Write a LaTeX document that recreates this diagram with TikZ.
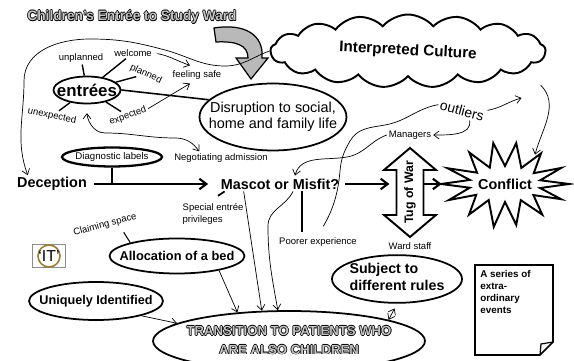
\documentclass[tikz,border=0pt]{standalone}
\usepackage{fontspec}
\setmainfont{Liberation Sans}
\usepackage{xcolor}
\definecolor{gold}{HTML}{A07C34}
\definecolor{boxgray}{HTML}{8C8C8C}
\usetikzlibrary{positioning,arrows.meta,calc,shapes.geometric,shapes.symbols}

\newcommand\fpt[2]{\fontsize{#1}{#2}\selectfont}
% grey letters with a black rim
\newcommand\hollow[1]{%
  \makebox[0pt][l]{\hspace{-.4pt}\textcolor{black}{#1}}%
  \makebox[0pt][l]{\hspace{.4pt}\textcolor{black}{#1}}%
  \makebox[0pt][l]{\raisebox{.4pt}{\textcolor{black}{#1}}}%
  \makebox[0pt][l]{\raisebox{-.4pt}{\textcolor{black}{#1}}}%
  \makebox[0pt][l]{\hspace{.3pt}\raisebox{-.3pt}{\textcolor{black}{#1}}}%
  \textcolor{gray!45}{#1}}

\begin{document}
\begin{tikzpicture}[
  x=0.02cm,y=0.02cm,
  >={Straight Barb[length=3pt,width=4.5pt]},
  lbl/.style={inner sep=1pt,font=\fpt{5.4}{6.4}},
  oval/.style={ellipse,draw,line width=1pt,inner sep=0pt},
  head/.style={inner sep=1pt,font=\bfseries\fpt{8.2}{9.6}},
  link/.style={->,line width=0.4pt},
  spoke/.style={line width=0.8pt},
  push/.style={-{Straight Barb[length=4pt,width=6pt]},line width=1.2pt},
]
\useasboundingbox (0,0) rectangle (574,361);

% title, culture cloud, grey arrow
\node[font=\bfseries\fpt{7.8}{9}] (title) at (132,344) {\hollow{Children's Entrée to Study Ward}};
\node[cloud,draw,line width=1.1pt,cloud puffs=17,cloud puff arc=100,cloud ignores aspect,
      minimum width=55mm,minimum height=14.6mm,inner sep=0pt,font=\bfseries\fpt{8.7}{10}]
      (cloud) at (408,310) {\makebox[0pt]{\rotatebox{-3}{Interpreted Culture}}};
\draw[fill=gray!55,line width=0.7pt] (214,333) .. controls (245,338) and (264,326) .. (262,303)
  -- (268,303) -- (251,282) -- (236,303) -- (248,303) .. controls (248,316) and (236,320) .. (216,319) -- cycle;

% entrees cluster
\node[oval,minimum width=13.4mm,minimum height=5.4mm,font=\bfseries\fpt{9.6}{11}] (entrees) at (87,271) {\makebox[0pt]{entrées}};
\node[lbl] (unpl) at (81,303) {unplanned};
\node[lbl] (welc) at (133,308) {welcome};
\node[lbl,rotate=-25] (plan) at (146,287) {planned};
\node[lbl,rotate=-12] (unexp) at (52,245) {unexpected};
\node[lbl,rotate=20] (expd) at (128,245) {expected};
\node[lbl] (safe) at (197,286) {feeling safe};
\node[oval,minimum width=29.4mm,minimum height=13.4mm,font=\fpt{8.2}{9.4}] (disr) at (273,244)
  {\makebox[0pt]{\begin{tabular}{@{}c@{}}Disruption to social,\\home and family life\end{tabular}}};
\node[lbl] (nego) at (221,203) {Negotiating admission};
\node[oval,line width=1.3pt,minimum width=20mm,minimum height=3.8mm,font=\fpt{5.5}{6.4}] (diag) at (112,204) {\makebox[0pt]{Diagnostic labels}};

\draw[spoke] (entrees) -- (unpl);
\draw[spoke] (entrees) -- (welc);
\draw[spoke] (entrees) -- (plan);
\draw[spoke] (entrees) -- (unexp);
\draw[spoke] (entrees) -- (expd);
\draw[link,shorten <=2pt] (welc.east) to[out=-10,in=160] ($(safe.north)+(-7,3)$);
\draw[link] (expd.east) -- ($(safe.south)+(-7,-2)$);
\draw[spoke,line width=0.9pt] (entrees.east) -- (disr.165);
\draw[link,<->,shorten <=5pt] (entrees.south) to[out=-90,in=180] (105,228) to[out=0,in=180] (175,223)
  to[out=0,in=125] ($(nego.north west)+(27,0)$);

% main row
\node[head] (decep) at (52,177) {Deception};
\node[head] (mascot) at (280,177) {Mascot or Misfit?};
\node[rotate=90,inner sep=0pt,font=\bfseries\fpt{7}{8}] (tug) at (410,168.5) {Tug of War};
\begin{scope}[shift={(tug.center)}]
  \draw[line width=1.1pt] (-13.5,22.5) -- (-26,22.5) -- (0,44.5) -- (26,22.5) -- (13.5,22.5) -- (13.5,-22.5)
    -- (26,-22.5) -- (0,-44.5) -- (-26,-22.5) -- (-13.5,-22.5) -- cycle;
  \coordinate (tugL) at (-13.5,0);
  \coordinate (tugR) at (13.5,0);
\end{scope}
\node[lbl] (mgr) at (410,226) {Managers};
\node[lbl] (ward) at (410,115) {Ward staff};
\node[head,minimum width=25.2mm,minimum height=14mm,inner sep=0pt] (conflict) at (505,177) {Conflict};
\draw[line width=1.1pt] ($(conflict)+(0:64 and 34)$)
  \foreach \a/\rx/\ry in {12/36/18,25/62/38,37/36/18,50/56/40,63/36/18,77/50/42,90/36/18,103/52/42,
    115/36/18,128/58/40,141/36/18,154/64/36,167/36/18,180/64/36,192/36/18,205/62/38,217/36/18,
    230/56/40,243/36/18,257/50/44,270/36/18,283/50/42,296/36/18,310/58/40,322/36/18,335/62/36,347/36/18}
  { -- ($(conflict)+(\a:{\rx} and {\ry})$) } -- cycle;
\node[lbl,font=\fpt{7.9}{9},rotate=-15] (outl) at (462,250) {outliers};

\draw[link] (cloud.west) to[out=200,in=0] (225,295) to[out=180,in=-15] (165,311) to[out=165,in=0] (90,322)
  to[out=180,in=90] (24,280) to[out=-90,in=110] (decep.160);
\draw[push,shorten <=3pt,shorten >=6pt] (decep.east) -- (mascot.west);
\draw[spoke,line width=0.7pt] (diag.south) -- (diag.south |- decep.east);
\draw[push,shorten <=2pt,shorten >=4pt] (mascot.east) -- (mascot.east -| tugL);
\draw[push] (tugR |- conflict.west) -- (conflict.west);
\draw[link] ($(cloud.east)+(-6,-34)$) to[out=-45,in=75] ($(conflict.north)+(30,-6)$);
\draw[link] (outl.north east) to[out=10,in=195] ($(cloud.east)+(-25,-47)$);
\draw[link] ($(outl.south)!0.4!(outl.south east)$) to[out=-80,in=0] (mgr.east);
\draw[link] (mgr.west) to[out=200,in=10] (347,204) to[out=190,in=75] ($(mascot.north)+(15,1)$);

% lower half
\node[lbl,align=left] (special) at (213,147) {Special entrée\\privileges};
\node[lbl] (poorer) at (318,119) {Poorer experience};
\node[lbl,rotate=15] (claim) at (105,136) {Claiming space};
\node[draw=boxgray,line width=0.7pt,minimum width=6.6mm,minimum height=4.6mm,inner sep=0pt] (itbox) at (49,105) {};
\node[circle,draw=gold,line width=0.9pt,minimum size=4.4mm,inner sep=0pt,font=\fpt{9}{10}] (it) at (itbox) {\makebox[0pt]{`IT'}};
\node[oval,minimum width=27mm,minimum height=7mm,font=\bfseries\fpt{7.3}{8.4}] (alloc) at (177,105) {\makebox[0pt]{Allocation of a bed}};
\node[oval,minimum width=26.8mm,minimum height=7.6mm,font=\bfseries\fpt{7.2}{8.4}] (uniq) at (96,60) {\makebox[0pt]{Uniquely Identified}};
\node[oval,minimum width=26mm,minimum height=8.8mm,font=\bfseries\fpt{8.1}{9.6}] (subj) at (397,82)
  {\makebox[0pt]{\begin{tabular}{@{}l@{}}Subject to\\different rules\end{tabular}}};
\node[oval,minimum width=54.4mm,minimum height=12mm,font=\bfseries\fpt{7.5}{10.8}] (trans) at (289,20)
  {\makebox[0pt]{\begin{tabular}{@{}c@{}}\hollow{TRANSITION TO PATIENTS WHO}\\\hollow{ARE ALSO CHILDREN}\end{tabular}}};
\node[anchor=north west,align=left,inner sep=0pt,font=\bfseries\fpt{5.6}{6.8}] (note) at (480,91) {A series of\\extra-\\ordinary\\events};
\draw[line width=0.9pt] (475,96) -- (553,96) -- (553,19) -- (540,6) -- (475,6) -- cycle;
\draw[line width=0.7pt] (553,19) -- (541,17) -- (540,6);

\draw[spoke,line width=1pt] ($(mascot.south west)+(6,0)$) -- ($(special.north)+(5,6)$);
\draw[link] ($(mascot.south west)+(25,0)$) -- (trans.132);
\draw[link] ($(mascot.south)+(13,0)$) to[out=-115,in=90] (268,135) to[out=-90,in=100] (trans.110);
\draw[spoke,line width=1pt] ($(mascot.south)+(22,0)$) -- ($(poorer.north)+(-16,3)$);
\draw[line width=0.4pt,shorten <=6pt] (poorer.north) to[out=60,in=-95] (340,190) to[out=85,in=-120] (350,220)
  to[out=60,in=190] (385,236) to[out=10,in=190] (outl.west);
\draw[spoke,line width=0.6pt] ($(claim.south)+(17,-1)$) -- (alloc.164);
\draw[link] (uniq.-18) -- (trans.171);
\draw[link] (alloc.-19) -- (trans.151);
\draw[link,<->,shorten <=3pt] (subj.south) -- (trans.12);
\end{tikzpicture}
\end{document}
